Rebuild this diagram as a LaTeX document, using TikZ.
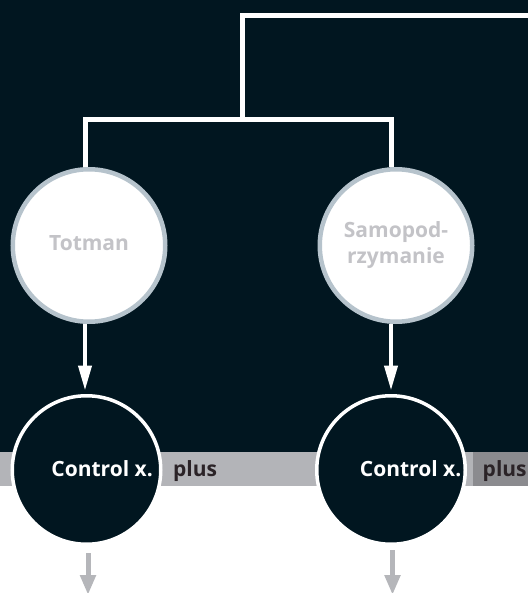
\documentclass[tikz,border=0pt]{standalone}
\usepackage{fontspec}
\setmainfont{Open Sans}
\usetikzlibrary{arrows.meta}
\definecolor{bg}{HTML}{011620}
\definecolor{ringgray}{HTML}{B6C3CC}
\definecolor{txtgray}{HTML}{C3C3C7}
\definecolor{bandlight}{HTML}{B3B4B8}
\definecolor{banddark}{HTML}{8B8B8F}
\definecolor{plusdark}{HTML}{2B2327}
\definecolor{arrowgray}{HTML}{B5B6BA}
\begin{document}
\begin{tikzpicture}[x=1pt,y=-1pt,
  topcirc/.style={circle, draw=ringgray, line width=4.5pt, fill=white, minimum size=152.5pt, inner sep=0pt,
    text=txtgray, align=center, font={\fontsize{21}{26}\selectfont\bfseries}},
  botcirc/.style={circle, draw=white, line width=3.5pt, fill=bg, minimum size=148.5pt, inner sep=0pt},
  ctext/.style={inner sep=0pt, text=white, font={\fontsize{21}{26}\selectfont\bfseries}},
  ptext/.style={inner sep=0pt, text=plusdark, font={\fontsize{21}{26}\selectfont\bfseries}},
  conn/.style={draw=white, line width=5pt, line join=miter},
  warrow/.style={draw=white, line width=4pt, -{Triangle[width=13pt,length=25pt]}},
  garrow/.style={draw=arrowgray, line width=5pt, -{Triangle[width=15pt,length=20pt]}}
]
\useasboundingbox (0,0) rectangle (528,593);
\fill[white] (0,0) rectangle (528,593);
\fill[bg] (0,0) rectangle (528,452);
\fill[bandlight] (0,452) rectangle (473,486);
\fill[banddark] (473,452) rectangle (528,486);

\coordinate (edge) at (530,16);
\coordinate (top) at (242.5,16);
\coordinate (a1) at (85,119.5);
\coordinate (a2) at (391,119.5);
\coordinate (e1) at (88,595);
\coordinate (e2) at (392.5,595);

\node[topcirc] (t1) at (89,245.5) {\raisebox{4pt}{Totman}};
\node[topcirc] (t2) at (396,245.5) {Samopod-\\rzymanie};

\node[botcirc] (c1) at (86.5,470) {};
\node[botcirc] (c2) at (391,470) {};

\node[ctext, anchor=base east] (l1) at (153,476) {Control x.};
\node[ptext, anchor=base west] (p1) at (173,476) {plus};
\node[ctext, anchor=base east] (l2) at (461.5,476) {Control x.};
\node[ptext, anchor=base west] (p2) at (482.5,476) {plus};

\draw[conn] (edge) -- (top) -- (top |- a1);
\draw[conn] (a1 |- t1.north) -- (a1) -- (a2) -- (a2 |- t2.north);

\draw[warrow, shorten >=3.5pt] (a1 |- t1.south) -- (a1 |- c1.north);
\draw[warrow, shorten >=3.5pt] (a2 |- t2.south) -- (a2 |- c2.north);

\draw[garrow, shorten <=7pt] (e1 |- c1.south) -- (e1);
\draw[garrow, shorten <=4pt] (e2 |- c2.south) -- (e2);
\end{tikzpicture}
\end{document}
